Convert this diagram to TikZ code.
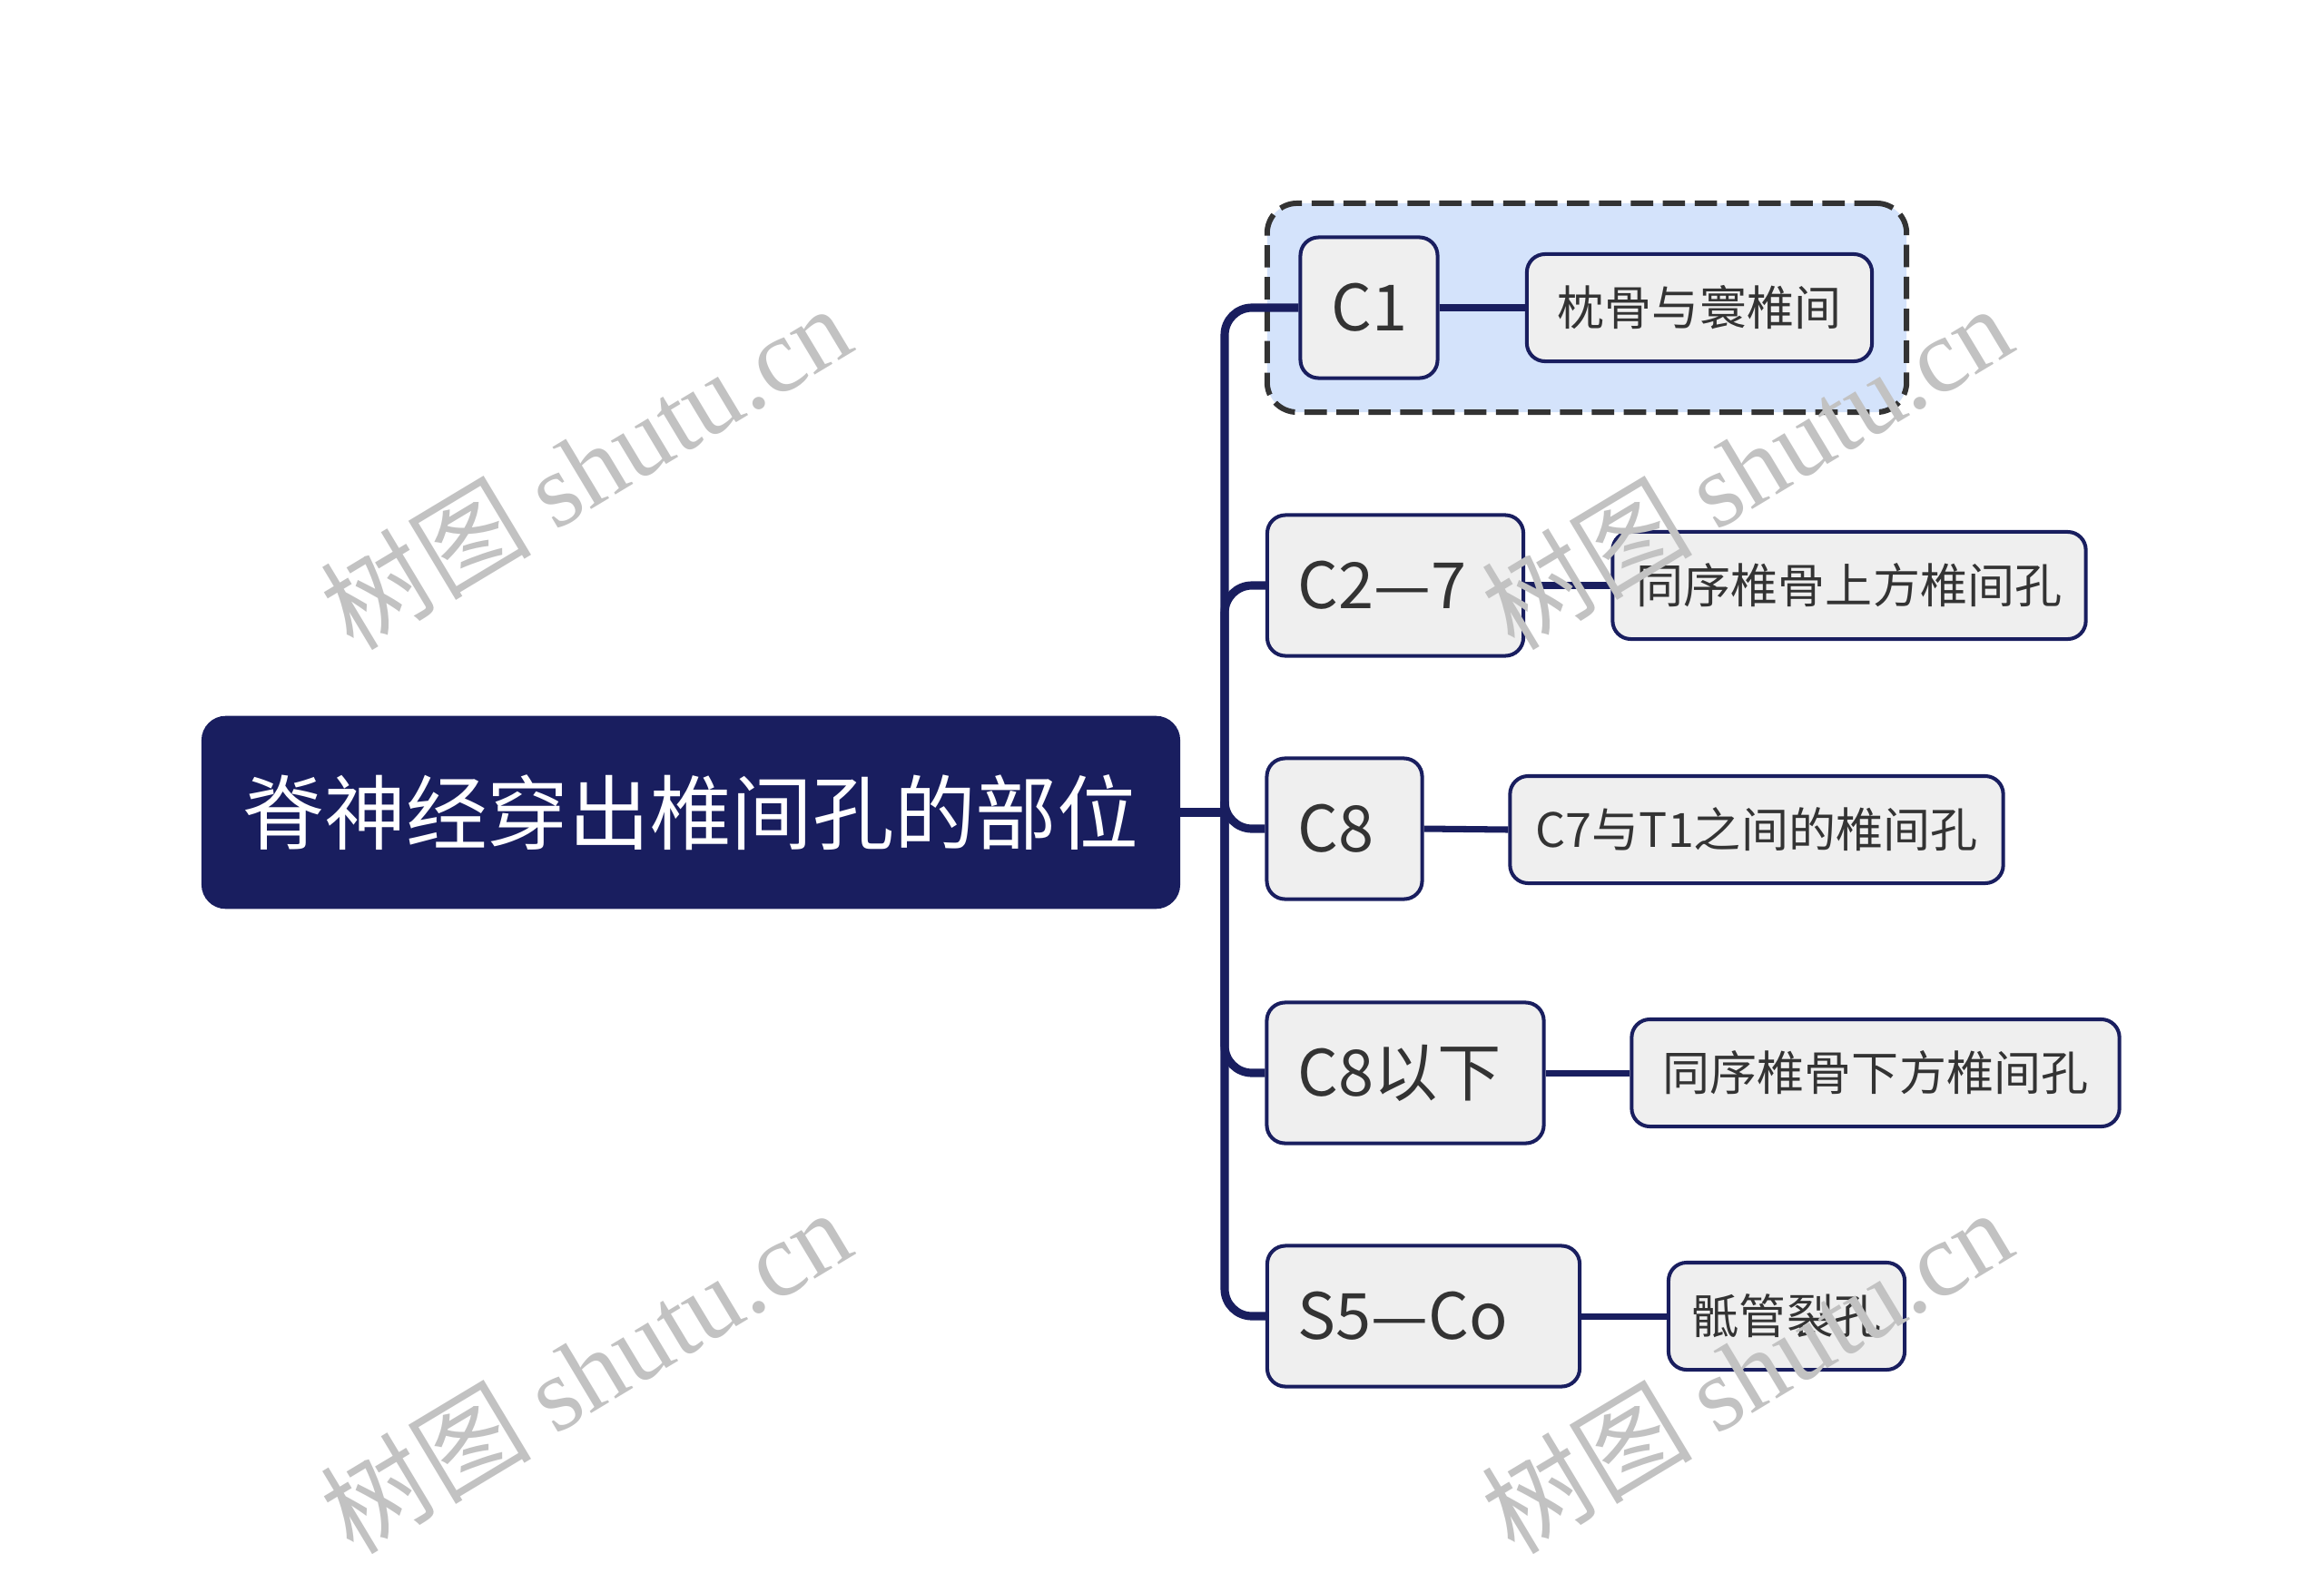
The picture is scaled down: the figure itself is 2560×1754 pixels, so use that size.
\documentclass[tikz,border=0pt]{standalone}
\usepackage{fontspec}
\setmainfont{Noto Sans CJK SC}
\newfontfamily\wmfont{Liberation Serif}
\newfontfamily\wmcjk{Noto Sans CJK SC}
\definecolor{navy}{HTML}{191E5F}
\definecolor{boxgray}{HTML}{EFEFEF}
\definecolor{txt}{HTML}{333333}
\definecolor{hlblue}{HTML}{D4E3FB}
\definecolor{hlborder}{HTML}{333333}
\begin{document}
\begin{tikzpicture}[x=0.01cm,y=-0.01cm,
  rootbox/.style={draw=navy, fill=navy, rounded corners=0.25cm, text=white,
    font=\fontsize{25.5}{30}\selectfont, minimum width=10.74cm, minimum height=2.09cm,
    inner sep=0pt, line width=1pt},
  lvlbox/.style={draw=navy, fill=boxgray, line width=1.15pt, rounded corners=0.2cm,
    text=txt, font=\fontsize{20}{24}\selectfont, inner ysep=0pt, inner xsep=0.34cm,
    align=left, minimum height=1.55cm},
  subbox/.style={draw=navy, fill=boxgray, line width=1.15pt, rounded corners=0.2cm,
    text=txt, font=\fontsize{14.8}{18}\selectfont, inner sep=0pt, minimum height=1.18cm},
  hlbox/.style={draw=hlborder, fill=hlblue, line width=1.7pt, rounded corners=0.33cm,
    dash pattern=on 7pt off 3pt, inner sep=0pt},
  trunk/.style={draw=navy, line width=2.6pt, rounded corners=0.3cm},
  link/.style={draw=navy, line width=2pt},
  wm/.style={text=black!24, font=\fontsize{33}{38}\selectfont, rotate=31, inner sep=0pt}
]
\useasboundingbox (0,0) rectangle (2560,1754);

% highlight frame
\node[hlbox, minimum width=7.04cm, minimum height=2.30cm] (hl) at (1748,339) {};

% root
\node[rootbox] (root) at (761,895) {脊神经穿出椎间孔的部位};
\coordinate (J) at (1349,895);

% level 1
\node[lvlbox, text width=0.83cm] (c1) at (1508,339) {C1};
\node[lvlbox, text width=2.14cm] (c27) at (1537,645) {C2—7};
\node[lvlbox, text width=1.03cm] (c8) at (1481,913) {C8};
\node[lvlbox, text width=2.37cm] (c8x) at (1548,1182) {C8以下};
\node[lvlbox, text width=2.76cm] (s5) at (1568,1450) {S5—Co};

% level 2
\node[subbox, minimum width=3.80cm] (d1) at (1872,339) {枕骨与寰椎间};
\node[subbox, minimum width=5.21cm] (d27) at (2037,645) {同序椎骨上方椎间孔};
\node[subbox, minimum width=5.43cm] (d8) at (1935,914) {C7与T1之间的椎间孔};
\node[subbox, minimum width=5.37cm] (d8x) at (2066,1182) {同序椎骨下方椎间孔};
\node[subbox, minimum width=2.60cm] (ds5) at (1968,1450) {骶管裂孔};

% connectors
\draw[trunk] (root.east) -- (J);
\draw[trunk] (J) |- (c1.west);
\draw[trunk] (J) |- (c27.west);
\draw[trunk] (J) |- (c8.west);
\draw[trunk] (J) |- (c8x.west);
\draw[trunk] (J) |- (s5.west);

\draw[link] (c1.east) -- (d1.west);
\draw[link] (c27.east) -- (d27.west);
\draw[link] (c8.east) -- (d8.west);
\draw[link] (c8x.east) -- (d8x.west);
\draw[link] (s5.east) -- (ds5.west);

% watermarks
\node[wm] (wm1) at (645,514) {\wmcjk 树图 \wmfont shutu.cn};
\node[wm] (wm2) at (1924,514) {\wmcjk 树图 \wmfont shutu.cn};
\node[wm] (wm3) at (645,1510) {\wmcjk 树图 \wmfont shutu.cn};
\node[wm] (wm4) at (1924,1510) {\wmcjk 树图 \wmfont shutu.cn};
\end{tikzpicture}
\end{document}
